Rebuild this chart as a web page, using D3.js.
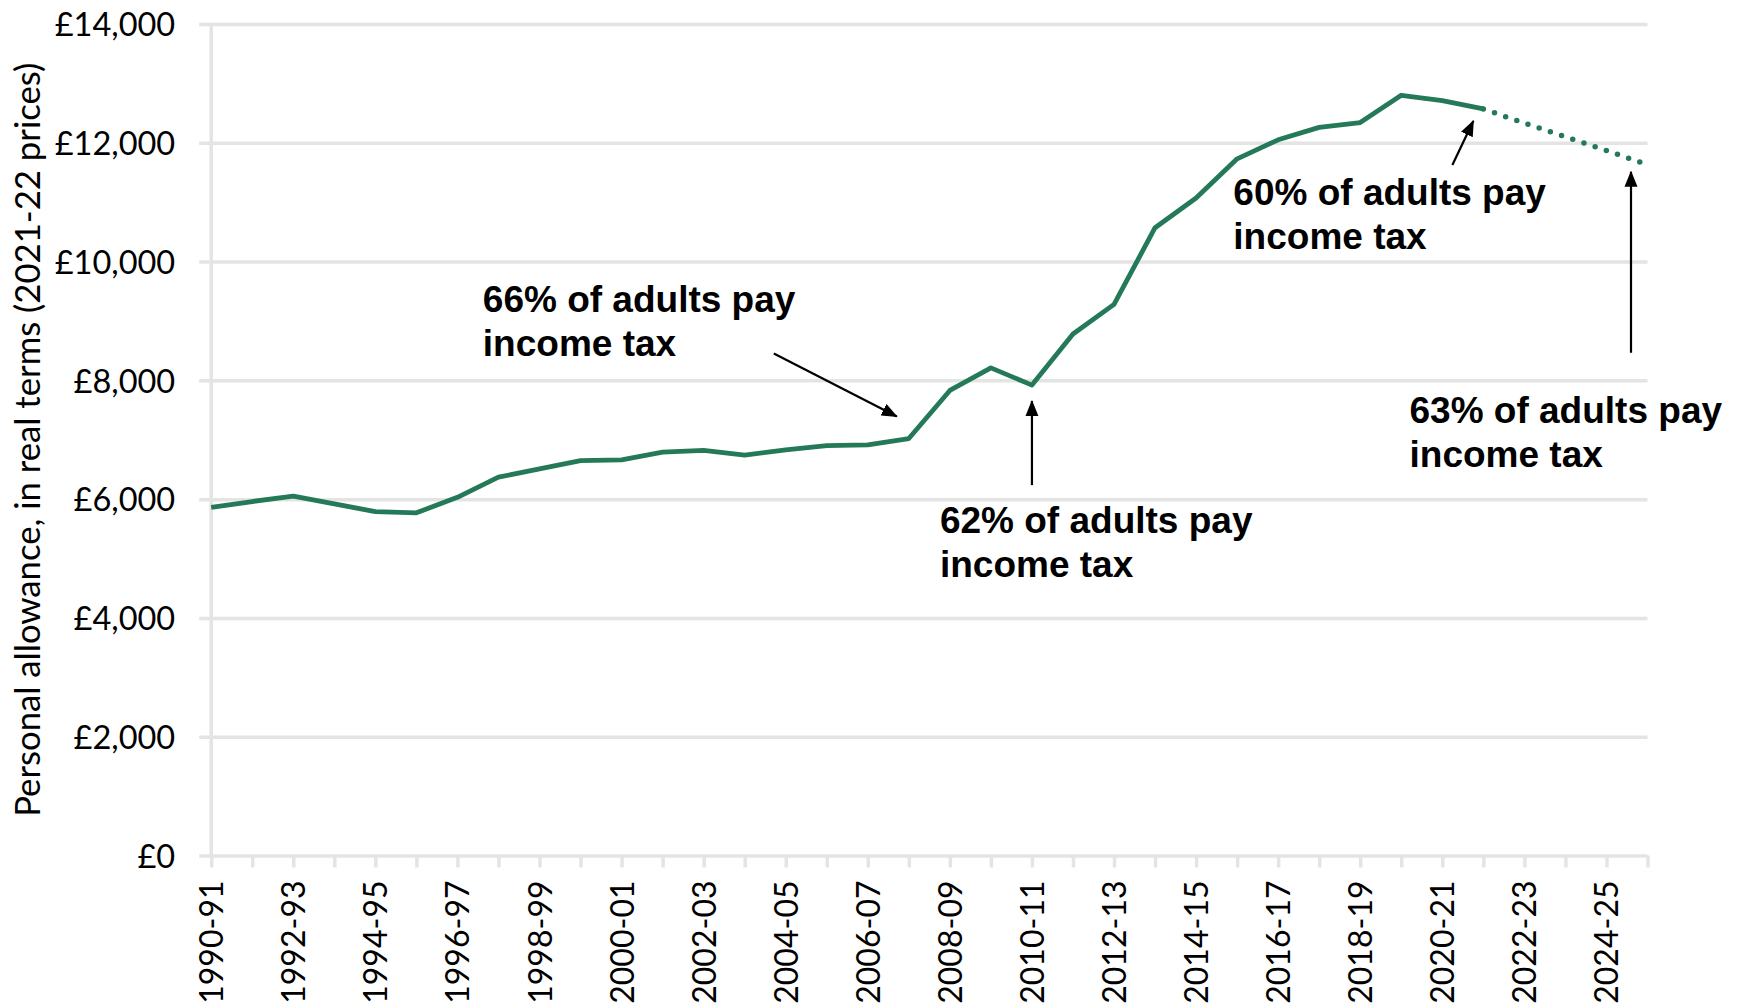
<!DOCTYPE html>
<html>
<head>
<meta charset="utf-8">
<script src="https://cdn.jsdelivr.net/npm/d3@7"></script>
<style>
  body { margin: 0; background: #fff; }
  svg { display: block; }
</style>
</head>
<body>
<svg id="chart" width="1740" height="1005"></svg>
<script>
// Tax years shown on the x axis
const years = [
  "1990-91","1991-92","1992-93","1993-94","1994-95","1995-96","1996-97","1997-98",
  "1998-99","1999-00","2000-01","2001-02","2002-03","2003-04","2004-05","2005-06",
  "2006-07","2007-08","2008-09","2009-10","2010-11","2011-12","2012-13","2013-14",
  "2014-15","2015-16","2016-17","2017-18","2018-19","2019-20","2020-21","2021-22",
  "2022-23","2023-24","2024-25","2025-26"
];

// Personal allowance in real terms (2021-22 prices), outturn
const actualYears = years.slice(0, 32);
const actualValues = [
  5860, 5960, 6050, 5920, 5790, 5770, 6030, 6370,
  6510, 6650, 6660, 6790, 6820, 6740, 6830, 6900,
  6915, 7020, 7830, 8210, 7920, 8780, 9280, 10570,
  11070, 11730, 12050, 12260, 12340, 12800, 12710, 12570
];

// Projection under the frozen allowance
const projectedYears = ["2021-22", "2022-23", "2023-24", "2024-25", "2025-26"];
const projectedValues = [12570, 12330, 12100, 11870, 11630];

// Axis ticks
const yTickValues = [0, 2000, 4000, 6000, 8000, 10000, 12000, 14000];
const xLabelYears = years.filter((d, i) => i % 2 === 0);

// Call-out text
const calloutYears = ["2007-08", "2010-11", "2021-22", "2025-26"];
const calloutLines = [
  ["66% of adults pay", "income tax"],
  ["62% of adults pay", "income tax"],
  ["60% of adults pay", "income tax"],
  ["63% of adults pay", "income tax"]
];

const svg = d3.select("#chart");
const W = 1740, H = 1005;
const plot = { left: 211.2, right: 1647.5, top: 24, bottom: 855.5 };

const x = d3.scalePoint().domain(years).range([plot.left, plot.right]);
const y = d3.scaleLinear().domain([0, 14000]).range([plot.bottom, plot.top]);

const gridColor = "#e4e4e4";
const lineColor = "#247a58";
const axisFont = "Lato, 'Open Sans', sans-serif";

svg.append("rect").attr("width", W).attr("height", H).attr("fill", "#fff");

// Horizontal gridlines with y labels
const gridExt = 12;
const yAxis = d3.axisLeft(y)
  .tickValues(yTickValues)
  .tickSize(-(plot.right - plot.left + gridExt))
  .tickSizeOuter(0)
  .tickPadding(24)
  .tickFormat(d => "£" + d3.format(",")(d));

const gy = svg.append("g")
  .attr("transform", `translate(${plot.left - gridExt},0)`)
  .call(yAxis);
gy.select(".domain").remove();
gy.selectAll(".tick line").attr("stroke", gridColor).attr("stroke-width", 3.5);
gy.selectAll(".tick text")
  .attr("fill", "#000")
  .attr("font-family", axisFont)
  .attr("font-size", 32.5)
  .attr("dy", "0.36em");

// Vertical axis line
svg.append("line")
  .attr("x1", plot.left).attr("x2", plot.left)
  .attr("y1", plot.top).attr("y2", plot.bottom)
  .attr("stroke", gridColor).attr("stroke-width", 3.5);

// X axis ticks and rotated labels
const xAxis = d3.axisBottom(x)
  .tickSize(12)
  .tickSizeOuter(0)
  .tickFormat(d => xLabelYears.includes(d) ? d : "");

const gx = svg.append("g")
  .attr("transform", `translate(0,${plot.bottom})`)
  .call(xAxis);
gx.select(".domain").remove();
gx.selectAll(".tick line").attr("stroke", gridColor).attr("stroke-width", 3.5);
gx.selectAll(".tick text")
  .attr("fill", "#000")
  .attr("font-family", axisFont)
  .attr("font-size", 32)
  .attr("text-anchor", "end")
  .attr("transform", "rotate(-90)")
  .attr("x", -25)
  .attr("y", 0)
  .attr("dy", "0.36em");

// Y axis title
svg.append("text")
  .attr("transform", `translate(40,${(plot.top + plot.bottom) / 2}) rotate(-90)`)
  .attr("text-anchor", "middle")
  .attr("font-family", axisFont)
  .attr("font-size", 34.7)
  .attr("fill", "#000")
  .text("Personal allowance, in real terms (2021-22 prices)");

// Series
const line = d3.line().x(d => x(d[0])).y(d => y(d[1]));

svg.append("path")
  .datum(d3.zip(projectedYears, projectedValues))
  .attr("d", line)
  .attr("fill", "none")
  .attr("stroke", lineColor)
  .attr("stroke-width", 5.5)
  .attr("stroke-linecap", "round")
  .attr("stroke-dasharray", "0 11.8");

svg.append("path")
  .datum(d3.zip(actualYears, actualValues))
  .attr("d", line)
  .attr("fill", "none")
  .attr("stroke", lineColor)
  .attr("stroke-width", 4.8)
  .attr("stroke-linejoin", "round");

// Arrowhead
svg.append("defs").append("marker")
  .attr("id", "arrowhead")
  .attr("markerUnits", "userSpaceOnUse")
  .attr("viewBox", "0 -7 16 14")
  .attr("refX", 15).attr("refY", 0)
  .attr("markerWidth", 16).attr("markerHeight", 14)
  .attr("orient", "auto")
  .append("path")
  .attr("d", "M0,-6.5L16,0L0,6.5Z")
  .attr("fill", "#000");

// Call-out placement, in pixels relative to the year's data point
const calloutLayout = [
  { tip: [-12, -22], tail: [-135, -85], text: [-426, -127] },
  { tip: [0, 16], tail: [0, 100], text: [-92, 148] },
  { tip: [-10, 12], tail: [-31, 56], text: [-250, 96] },
  { tip: [-16.5, 7], tail: [-16.5, 188], text: [-238, 258] }
];

const valueByYear = new Map(d3.zip(years, actualValues.concat(projectedValues.slice(1))));

calloutYears.forEach((yr, i) => {
  const px = x(yr), py = y(valueByYear.get(yr));
  const L = calloutLayout[i];
  svg.append("line")
    .attr("x1", px + L.tail[0]).attr("y1", py + L.tail[1])
    .attr("x2", px + L.tip[0]).attr("y2", py + L.tip[1])
    .attr("stroke", "#000").attr("stroke-width", 2.2)
    .attr("marker-end", "url(#arrowhead)");
  const t = svg.append("text")
    .attr("font-family", "'Liberation Sans', Arial, sans-serif")
    .attr("font-weight", "bold")
    .attr("font-size", 37)
    .attr("fill", "#000");
  calloutLines[i].forEach((s, j) => {
    t.append("tspan")
      .attr("x", px + L.text[0])
      .attr("y", py + L.text[1] + j * 44)
      .text(s);
  });
});
</script>
</body>
</html>
